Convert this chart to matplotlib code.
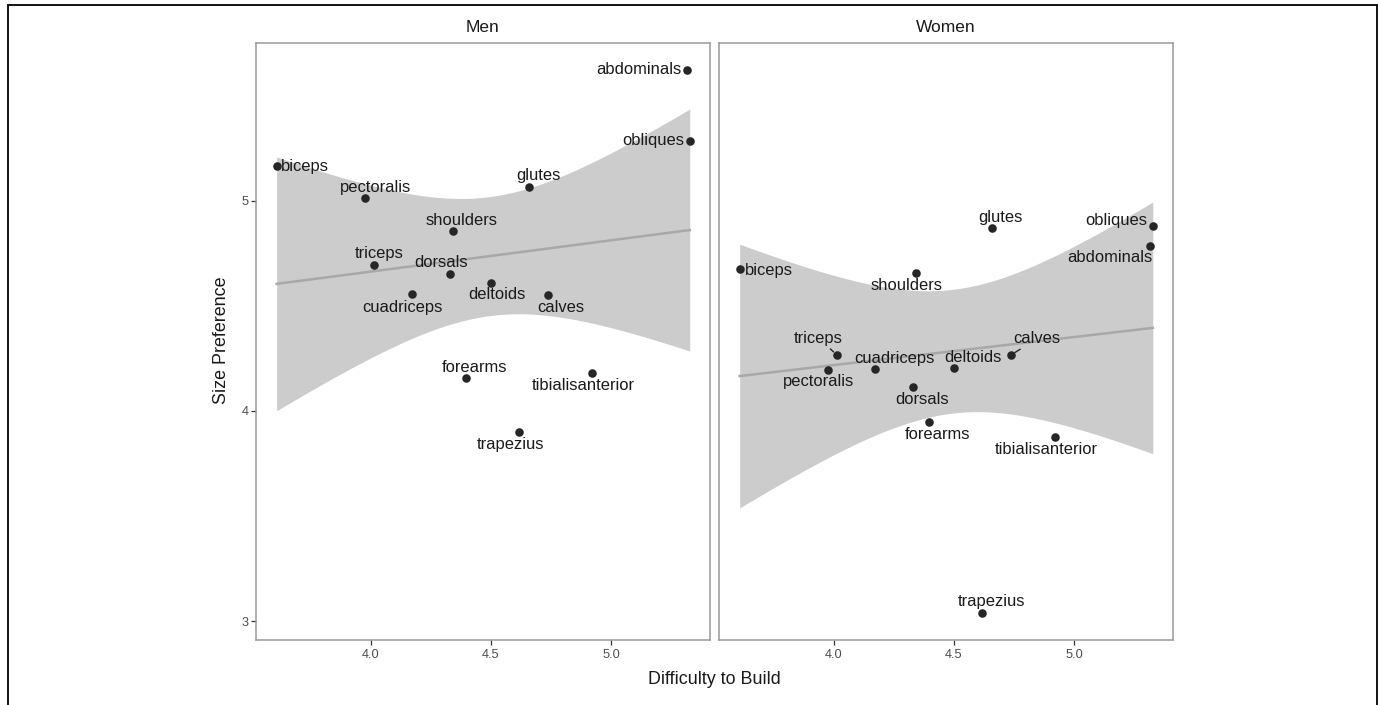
import numpy as np
import matplotlib
matplotlib.use("Agg")
import matplotlib.pyplot as plt
from matplotlib.patches import Rectangle

plt.rcParams['font.family'] = ['Liberation Sans', 'DejaVu Sans']

# ---------------- data ----------------
muscles = ["biceps", "pectoralis", "triceps", "cuadriceps", "dorsals", "shoulders",
           "forearms", "deltoids", "trapezius", "glutes", "calves",
           "tibialisanterior", "abdominals", "obliques"]
difficulty = [3.609, 3.975, 4.014, 4.173, 4.330, 4.343,
              4.395, 4.500, 4.618, 4.658, 4.736,
              4.920, 5.315, 5.326]
pref_men = [5.166, 5.011, 4.694, 4.555, 4.653, 4.857,
            4.155, 4.610, 3.900, 5.065, 4.550,
            4.182, 5.623, 5.285]
pref_women = [4.674, 4.196, 4.265, 4.200, 4.113, 4.656,
              3.948, 4.204, 3.038, 4.869, 4.265,
              3.878, 4.785, 4.881]
panels = ["Men", "Women"]
x_ticks = [4.0, 4.5, 5.0]
x_ticklabels = ["4.0", "4.5", "5.0"]
y_ticks = [3, 4, 5]
y_ticklabels = ["3", "4", "5"]

# ------------- label layout (pixel offsets, ha) -------------
label_layout = {
    "Men": {
        "abdominals": (-6, 0, "right"), "obliques": (-6, 0, "right"),
        "biceps": (4, 1, "left"), "glutes": (9, -11, "center"),
        "pectoralis": (11, -11, "center"), "shoulders": (8.5, -10.7, "center"),
        "triceps": (5, -11.7, "center"), "dorsals": (-9, -11, "center"),
        "deltoids": (6, 12, "center"), "cuadriceps": (-9.6, 13, "center"),
        "calves": (12.6, 12, "center"), "forearms": (9, -10.7, "center"),
        "tibialisanterior": (-9.2, 13, "center"), "trapezius": (-9.3, 13, "center"),
    },
    "Women": {
        "biceps": (5, 1, "left"), "glutes": (8.5, -11, "center"),
        "obliques": (-5.6, -5, "right"), "abdominals": (2.6, 11.7, "right"),
        "shoulders": (-9.2, 12.3, "center"), "triceps": (-18.5, -17, "center"),
        "pectoralis": (-9, 12.3, "center"), "cuadriceps": (18.8, -10.3, "center"),
        "deltoids": (19.3, -10.7, "center"), "calves": (26, -16.6, "center"),
        "dorsals": (9, 12, "center"), "forearms": (8.5, 13, "center"),
        "tibialisanterior": (-9.3, 13, "center"), "trapezius": (8.8, -11.6, "center"),
    },
}
connectors = {"Women": ["triceps", "calves"]}

W, H, DPI = 1379, 705, 100
fig = plt.figure(figsize=(W / DPI, H / DPI), dpi=DPI)

def fx(px):
    return px / W

def fy(py):
    return 1 - py / H

ax_bottom = fy(640)
ax_height = fy(43) - fy(640)
lefts = [256, 719]
ax_w = fx(710) - fx(256)

xlim = (3.523, 5.410)
ylim = (2.91, 5.75)
T95 = 2.1788  # t quantile, df = 12

border_col = "#9a9a9a"
xs = np.array(difficulty)

for i, (name, ys_list) in enumerate(zip(panels, [pref_men, pref_women])):
    ax = fig.add_axes([fx(lefts[i]), ax_bottom, ax_w, ax_height])
    ys = np.array(ys_list)
    n = len(xs)
    # linear fit with 95% CI
    b1, b0 = np.polyfit(xs, ys, 1)
    resid = ys - (b0 + b1 * xs)
    s = np.sqrt(np.sum(resid ** 2) / (n - 2))
    xg = np.linspace(xs.min(), xs.max(), 200)
    se = s * np.sqrt(1 / n + (xg - xs.mean()) ** 2 / np.sum((xs - xs.mean()) ** 2))
    yfit = b0 + b1 * xg
    ax.fill_between(xg, yfit - T95 * se, yfit + T95 * se, color="#cccccc", lw=0, zorder=1)
    ax.plot(xg, yfit, color="#a8a8a8", lw=1.8, zorder=2)
    ax.scatter(xs, ys, s=38, color="#262626", zorder=4, linewidths=0)

    for m, xv, yv in zip(muscles, xs, ys):
        dx, dy, ha = label_layout[name][m]
        arrow = None
        if m in connectors.get(name, []):
            arrow = dict(arrowstyle="-", color="#262626", lw=1.0, shrinkA=0.5, shrinkB=3.5)
        ax.annotate(m, (xv, yv), xytext=(dx * 0.72, -dy * 0.72), textcoords="offset points",
                    ha=ha, va="center", fontsize=11.9, color="#1a1a1a", zorder=5,
                    arrowprops=arrow)

    ax.set_xlim(*xlim)
    ax.set_ylim(*ylim)
    ax.set_xticks(x_ticks)
    ax.set_xticklabels(x_ticklabels)
    ax.set_yticks(y_ticks)
    if i == 0:
        ax.set_yticklabels(y_ticklabels)
        ax.tick_params(axis="y", length=3.5, width=0.9, color="#333333",
                       labelsize=9.2, labelcolor="#4d4d4d", pad=2)
    else:
        ax.tick_params(axis="y", left=False, labelleft=False)
    ax.tick_params(axis="x", length=3.5, width=0.9, color="#333333",
                   labelsize=9.2, labelcolor="#4d4d4d", pad=3)
    for sp in ax.spines.values():
        sp.set_color(border_col)
        sp.set_linewidth(1.1)
    fig.text(fx(lefts[i]) + ax_w / 2, fy(28), name, ha="center", va="center",
             fontsize=12.5, color="#1a1a1a")

fig.text(fx(714), fy(680), "Difficulty to Build", ha="center", va="center",
         fontsize=12.9, color="#1a1a1a")
fig.text(fx(222), fy(340), "Size Preference", ha="center", va="center",
         rotation=90, fontsize=12.9, color="#1a1a1a")

fig.patches.append(Rectangle((fx(7.5), -0.05), fx(1377) - fx(7.5), fy(5) + 0.05,
                             transform=fig.transFigure, fill=False,
                             edgecolor="black", lw=1.3, zorder=10))

fig.savefig("out.png", dpi=DPI)
